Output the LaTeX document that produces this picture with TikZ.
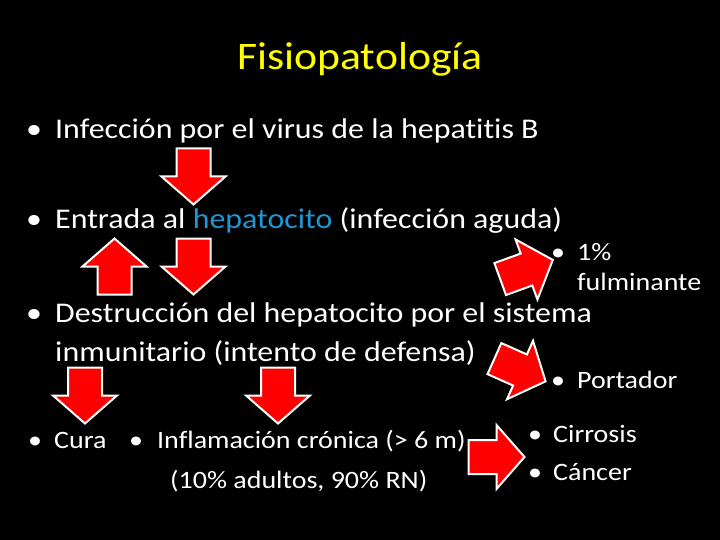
\documentclass[tikz,border=0pt]{standalone}
\usepackage{fontspec}
\setmainfont{Carlito}[FakeStretch=1.12, Ligatures=NoCommon]
\usepackage{xcolor}
\definecolor{hepblue}{RGB}{32,150,212}
\definecolor{slideyellow}{RGB}{255,255,0}
\tikzset{
	txt/.style={anchor=base west, inner sep=0pt, text=white, font=\fontsize{28.5}{34}\selectfont},
	smalltxt/.style={txt, font=\fontsize{25}{30}\selectfont},
	bigarrow/.pic={
			\draw [line width=2pt, draw=white, fill=red, line join=miter] (-28,-17) -- (0,-17) -- (0,-32) -- (28,0) -- (0,32) -- (0,17) -- (-28,17) -- cycle;
		}
}

\begin{document}
\begin{tikzpicture}[x=1pt, y=-1pt]
        \fill[black] (0,0) rectangle (720,540);
        \useasboundingbox (0,0) rectangle (720,540);
        \node[anchor=base, inner sep=0pt, text=slideyellow, font=\fontsize{39}{47}\selectfont] (title) at (360,70) {Fisiopatología};
        \node[txt] (infeccion) at (26,139) {\makebox[29pt][l]{•}Infección por el virus de la hepatitis B};
        \node[txt] (entrada) at (26,229) {\makebox[29pt][l]{•}Entrada al \textcolor{hepblue}{hepatocito} (infección aguda)};
        \node[txt] (destruccion) at (26,322) {\makebox[29pt][l]{•}Destrucción del hepatocito por el sistema};
        \node[txt] (inmunitario) at (55,361) {inmunitario (intento de defensa)};
        \node[smalltxt] (fulm) at (551,260) {\makebox[26pt][l]{•}1\%};
        \node[smalltxt] (fulm2) at (577,290) {fulminante};
        \node[smalltxt] (portador) at (551,388) {\makebox[26pt][l]{•}Portador};
        \node[smalltxt] (cura) at (28,448) {\makebox[26pt][l]{•}Cura};
        \node[smalltxt] (inflam) at (129,448) {\makebox[28pt][l]{•}Inflamación crónica (> 6 m)};
        \node[smalltxt] (adultos) at (170,488) {(10\% adultos, 90\% RN)};
        \node[smalltxt] (cirrosis) at (528,442) {\makebox[25pt][l]{•}Cirrosis};
        \node[smalltxt] (cancer) at (528,480) {\makebox[25pt][l]{•}Cáncer};
        % flechas
        \pic[rotate=-90] at (193.5,176.5) {bigarrow};
        \pic[rotate=90] at (114.5,266.5) {bigarrow};
        \pic[rotate=-90] at (193.5,266.5) {bigarrow};
        \pic[rotate=20] at (526.5,269.5) {bigarrow};
        \pic[rotate=-24] at (520,370) {bigarrow};
        \pic[rotate=-90] at (85,395.5) {bigarrow};
        \pic[rotate=-90] at (278,395.5) {bigarrow};
        \pic at (496.5,457) {bigarrow};
    \end{tikzpicture}
\end{document}
